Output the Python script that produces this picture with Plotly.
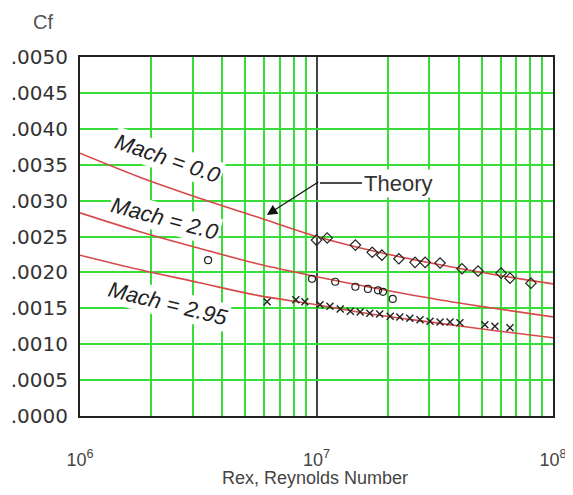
import plotly.graph_objects as go

# Theory curves (Re, Cf)
theory_re = [1e6, 1.778e6, 3.162e6, 5.623e6, 1e7, 1.778e7, 3.162e7, 5.623e7, 1e8]
theory_m0 = [0.00366, 0.00333, 0.00304, 0.00277, 0.00250, 0.00229, 0.00212, 0.00197, 0.00184]
theory_m20 = [0.00283, 0.00257, 0.00234, 0.00212, 0.00194, 0.00178, 0.00163, 0.00150, 0.00138]
theory_m295 = [0.00224, 0.00204, 0.00186, 0.00168, 0.00155, 0.00141, 0.00130, 0.00119, 0.00109]

# Experimental data
m0_re = [1.0e7, 1.11e7, 1.46e7, 1.72e7, 1.89e7, 2.23e7, 2.61e7, 2.88e7, 3.33e7, 4.12e7, 4.82e7, 6.03e7, 6.58e7, 8.07e7]
m0_cf = [0.00245, 0.00248, 0.00238, 0.00228, 0.00224, 0.00219, 0.00214, 0.00214, 0.00213, 0.00205, 0.00202, 0.00199, 0.00192, 0.00185]

m20_re = [3.48e6, 9.57e6, 1.2e7, 1.46e7, 1.65e7, 1.82e7, 1.91e7, 2.1e7]
m20_cf = [0.00217, 0.00191, 0.00187, 0.00180, 0.00177, 0.00175, 0.00173, 0.00163]

m295_re = [6.18e6, 8.18e6, 8.93e6, 1.035e7, 1.14e7, 1.26e7, 1.39e7, 1.53e7, 1.68e7, 1.85e7, 2.05e7,
           2.25e7, 2.48e7, 2.74e7, 3.02e7, 3.33e7, 3.67e7, 4.04e7, 5.15e7, 5.68e7, 6.58e7]
m295_cf = [0.00159, 0.00162, 0.00159, 0.00155, 0.00153, 0.00149, 0.00146, 0.00145, 0.00143, 0.00142, 0.00139,
           0.00138, 0.00136, 0.00134, 0.00132, 0.00131, 0.00131, 0.00130, 0.00127, 0.00125, 0.00123]

# Ticks
y_tickvals = [0, 0.0005, 0.0010, 0.0015, 0.0020, 0.0025, 0.0030, 0.0035, 0.0040, 0.0045, 0.0050]
y_ticktext = [".0000", ".0005", ".0010", ".0015", ".0020", ".0025", ".0030", ".0035", ".0040", ".0045", ".0050"]
x_tickvals = [1e6, 1e7, 1e8]
x_ticktext = ["10<sup>6</sup>", "10<sup>7</sup>", "10<sup>8</sup>"]
x_minor = [2e6, 3e6, 4e6, 5e6, 6e6, 7e6, 8e6, 9e6, 2e7, 3e7, 4e7, 5e7, 6e7, 7e7, 8e7, 9e7]

GREEN = "#38de38"
RED = "#d84848"
FONT = "Liberation Sans"

fig = go.Figure()
for ys in (theory_m0, theory_m20, theory_m295):
    fig.add_trace(go.Scatter(x=theory_re, y=ys, mode="lines",
                             line=dict(color=RED, width=1.6, shape="spline"),
                             showlegend=False, hoverinfo="skip"))

fig.add_trace(go.Scatter(x=m0_re, y=m0_cf, mode="markers", showlegend=False,
                         marker=dict(symbol="diamond-open", size=8, color="#222",
                                     line=dict(width=1.2, color="#222"))))
fig.add_trace(go.Scatter(x=m20_re, y=m20_cf, mode="markers", showlegend=False,
                         marker=dict(symbol="circle-open", size=7, color="#222",
                                     line=dict(width=1.2, color="#222"))))
fig.add_trace(go.Scatter(x=m295_re, y=m295_cf, mode="markers", showlegend=False,
                         marker=dict(symbol="x-thin-open", size=7, color="#222",
                                     line=dict(width=1.4, color="#222"))))

fig.update_xaxes(type="log", range=[6, 8], tickmode="array", tickvals=x_tickvals, ticktext=x_ticktext,
                 showgrid=True, gridcolor="#444", gridwidth=1.5,
                 minor=dict(tickmode="array", tickvals=x_minor, showgrid=True,
                            gridcolor=GREEN, gridwidth=2, ticklen=0),
                 showline=True, linecolor="#222", linewidth=2, mirror=True,
                 ticks="", ticklabelstandoff=26, automargin=False,
                 tickfont=dict(family=FONT, size=18, color="#444"), zeroline=False)
fig.update_yaxes(range=[0, 0.005], tickmode="array", tickvals=y_tickvals, ticktext=y_ticktext,
                 showgrid=True, gridcolor=GREEN, gridwidth=2,
                 showline=True, linecolor="#222", linewidth=2, mirror=True,
                 ticks="", ticklabelstandoff=6, automargin=False,
                 tickfont=dict(family="DejaVu Sans", size=20, color="#333"), zeroline=False)

def px2paper(px, py):
    return (px - 80) / 473.0, (416 - py) / 359.0

annots = []
for txt, (cx, cy), ang in [("Mach = 0.0", (168, 158), 19),
                           ("Mach = 2.0", (165, 218), 15),
                           ("Mach = 2.95", (168, 303), 14)]:
    px_, py_ = px2paper(cx, cy)
    annots.append(dict(x=px_, y=py_, xref="paper", yref="paper", text="<i>" + txt + "</i>",
                       xanchor="center", yanchor="middle",
                       showarrow=False, textangle=ang, bgcolor="white",
                       font=dict(family=FONT, size=22, color="#222")))

# Theory arrow (tip on Mach 0 curve)
annots.append(dict(x=6.79, y=0.00280, xref="x", yref="y", text="", showarrow=True,
                   ax=53, ay=-34, arrowhead=2, arrowsize=1.6, arrowwidth=1.3,
                   arrowcolor="#111", standoff=0))
tx, ty = px2paper(362, 183)
annots.append(dict(x=tx, y=ty, xref="paper", yref="paper", text="Theory",
                   xanchor="left", yanchor="middle",
                   showarrow=False, bgcolor="white",
                   font=dict(family=FONT, size=22, color="#333")))
cx_, cy_ = px2paper(43, 22)
annots.append(dict(x=cx_, y=cy_, xref="paper", yref="paper", text="Cf", showarrow=False,
                   xanchor="center", yanchor="middle",
                   font=dict(family=FONT, size=20, color="#555")))
xx, xy = px2paper(315, 478)
annots.append(dict(x=xx, y=xy, xref="paper", yref="paper", text="Rex, Reynolds Number",
                   xanchor="center", yanchor="middle",
                   showarrow=False, font=dict(family=FONT, size=18, color="#444")))

lx0, ly = px2paper(320, 183)
lx1, _ = px2paper(362, 183)
# The page body has an 8px default margin, so the figure is offset by (8, 8)
fig.update_layout(
    width=565, height=487,
    margin=dict(l=72, r=20, t=49, b=79),
    paper_bgcolor="white", plot_bgcolor="white",
    annotations=annots,
    shapes=[dict(type="line", xref="paper", yref="paper", x0=lx0, x1=lx1, y0=ly, y1=ly,
                 line=dict(color="#111", width=1.3))],
)

fig.write_html("out.html")
